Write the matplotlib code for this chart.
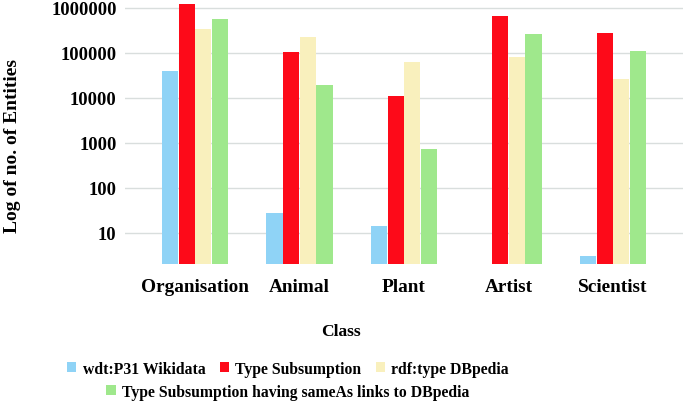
import numpy as np
import matplotlib
matplotlib.use("Agg")
import matplotlib.pyplot as plt
from matplotlib.patches import Patch

plt.rcParams['font.family'] = ['Liberation Serif', 'DejaVu Serif']
plt.rcParams['font.weight'] = 'bold'

# data (log scale, 0 = no bar)
classes = ['Organisation', 'Animal', 'Plant', 'Artist', 'Scientist']
series_names = ['wdt:P31 Wikidata', 'Type Subsumption', 'rdf:type DBpedia',
                'Type Subsumption having sameAs links to DBpedia']
wikidata = [40000, 28, 14, 0, 3]
subsumption = [1230000, 107000, 10900, 664000, 283000]
dbpedia = [347000, 223000, 63000, 83000, 26000]
same_as = [562000, 19100, 724, 264000, 109000]
colors = ['#8fd3f6', '#fd0a19', '#f9f0bd', '#9fe88c']

values = [wikidata, subsumption, dbpedia, same_as]

fig = plt.figure(figsize=(6.85, 4.02), dpi=100)
ax = fig.add_axes([125 / 685, 1 - 265 / 402, 558 / 685, 265 / 402])

x = np.arange(len(classes))
w = 0.16
for i, (vals, c) in enumerate(zip(values, colors)):
    v = np.array(vals, dtype=float)
    v[v == 0] = np.nan
    ax.bar(x + (i - 1.5) * w, v, width=w * 0.97, color=c, zorder=3)

ax.set_yscale('log')
ax.set_ylim(2, 10 ** 6.2)
ax.set_xlim(-0.67, 4.67)
yt = [10, 100, 1000, 10000, 100000, 1000000]
ax.set_yticks(yt)
ax.set_yticklabels([str(t) for t in yt])
ax.yaxis.set_minor_locator(matplotlib.ticker.NullLocator())
ax.set_xticks(x)
ax.set_xticklabels(classes)
ax.tick_params(axis='both', length=0)
ax.tick_params(axis='x', pad=10, labelsize=13.9)
ax.tick_params(axis='y', pad=6, labelsize=13.3)
ax.grid(axis='y', color='#d9dedd', linewidth=1, zorder=0)
for s in ax.spines.values():
    s.set_visible(False)

fig.text(13 / 685, 1 - 146 / 402, 'Log of no. of Entities', rotation=90,
         ha='center', va='center', fontsize=14, fontweight='bold')
fig.text(341 / 685, 1 - 332 / 402, 'Class', ha='center', va='center',
         fontsize=12.5, fontweight='bold')

handles = [Patch(facecolor=c, edgecolor='none') for c in colors]
leg1 = fig.legend(handles[:3], series_names[:3], ncol=3, loc='center',
                  bbox_to_anchor=(288 / 685, 1 - 370 / 402), frameon=False,
                  fontsize=11.3, handlelength=0.6, handleheight=0.6,
                  handletextpad=0.4, columnspacing=0.9, borderpad=0)
leg2 = fig.legend(handles[3:], series_names[3:], ncol=1, loc='center',
                  bbox_to_anchor=(288 / 685, 1 - 393 / 402), frameon=False,
                  fontsize=11.3, handlelength=0.6, handleheight=0.6,
                  handletextpad=0.4, borderpad=0)

fig.savefig('out.png', dpi=100)
